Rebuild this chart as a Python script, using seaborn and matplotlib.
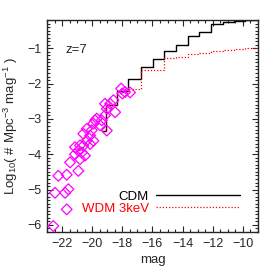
import numpy as np
import seaborn as sns
import matplotlib.pyplot as plt

# histogram bin edges (mag) and log10 number densities
bin_edges = [-19.35, -19.10, -18.35, -17.62, -16.79, -15.96, -15.23, -14.43,
             -13.63, -12.90, -12.10, -11.31, -10.57, -9.84, -8.9]
cdm_vals = [-3.35, -2.61, -2.22, -1.88, -1.54, -1.31, -1.08, -0.91,
            -0.65, -0.54, -0.31, -0.26, -0.23, -0.19]
wdm_vals = [-3.35, -2.61, -2.25, -2.16, -1.62, -1.62, -1.28, -1.25,
            -1.17, -1.14, -1.08, -1.05, -1.02, -1.00]

# observed points
obs_mag = [-22.58, -21.69, -22.47, -21.80, -21.58, -22.25, -21.69, -20.92,
           -21.47, -20.81, -21.14, -20.92, -20.69, -20.48, -20.59, -20.81,
           -20.14, -19.92, -20.36, -21.14, -20.14, -20.59, -20.03, -20.36,
           -19.48, -19.92, -19.15, -19.81, -19.03, -19.15, -19.03, -18.48,
           -18.59, -18.08, -17.82, -17.49, -18.00, -18.81, -19.37, -19.70]
obs_phi = [-6.03, -5.56, -5.09, -5.09, -4.99, -4.61, -4.58, -4.47,
           -4.23, -4.14, -4.00, -3.90, -3.95, -4.04, -3.76, -3.75,
           -3.71, -3.62, -3.61, -3.80, -3.47, -3.42, -3.32, -3.28,
           -3.18, -3.13, -2.90, -3.04, -3.33, -2.57, -2.71, -2.81,
           -2.47, -2.14, -2.24, -2.25, -2.28, -2.57, -3.04, -2.99]

sns.set_style("ticks")
plt.rcParams['font.family'] = ['Liberation Sans', 'DejaVu Sans']
plt.rcParams['mathtext.fontset'] = 'custom'
plt.rcParams['mathtext.rm'] = 'Liberation Sans'
plt.rcParams['mathtext.it'] = 'Liberation Sans:italic'

fig = plt.figure(figsize=(2.74, 2.73), dpi=100)
ax = fig.add_axes([0.1715, 0.1502, 0.77, 0.7765])

sns.lineplot(x=bin_edges, y=cdm_vals + [cdm_vals[-1]], drawstyle='steps-post',
             color='k', lw=1, ax=ax, label='CDM', sort=False)
sns.lineplot(x=bin_edges, y=wdm_vals + [wdm_vals[-1]], drawstyle='steps-post',
             color='red', lw=0.9, ls=(0, (1, 1.5)), ax=ax, label='WDM 3keV', sort=False)
sns.scatterplot(x=obs_mag, y=obs_phi, marker='D', s=30, fc='none', ec='#ff00ff',
                linewidth=0.9, ax=ax, zorder=3)

ax.set_xlim(-23, -9)
ax.set_ylim(-6.2, -0.2)
ax.set_xticks(np.arange(-22, -9, 2))
ax.set_xticks(np.arange(-23, -8.9, 0.5), minor=True)
ax.set_yticks(np.arange(-6, -0.5, 1))
ax.set_yticks(np.arange(-6.2, -0.15, 0.1), minor=True)
ax.tick_params(which='both', direction='in', top=True, right=True, width=0.8,
               labelsize=9, pad=4)
ax.tick_params(which='major', length=4.5)
ax.tick_params(which='minor', length=2.2)
for sp in ax.spines.values():
    sp.set_linewidth(1)

ax.set_xlabel('mag', fontsize=9.5, labelpad=3)
ax.set_ylabel('Log$_{10}$( # Mpc$^{-3}$ mag$^{-1}$ )', fontsize=9.5)
ax.yaxis.set_label_coords(-0.13, 0.5)

ax.text(-21.8, -1.05, 'z=7', fontsize=9.5, va='center', ha='left')

leg = ax.legend(loc='lower right', bbox_to_anchor=(0.915, 0.08), frameon=False,
                markerfirst=False, handlelength=6.4, handletextpad=0.5,
                labelspacing=0.0, fontsize=9.5, labelcolor=['black', 'red'],
                borderpad=0, borderaxespad=0)

plt.savefig('out.png', dpi=100)
